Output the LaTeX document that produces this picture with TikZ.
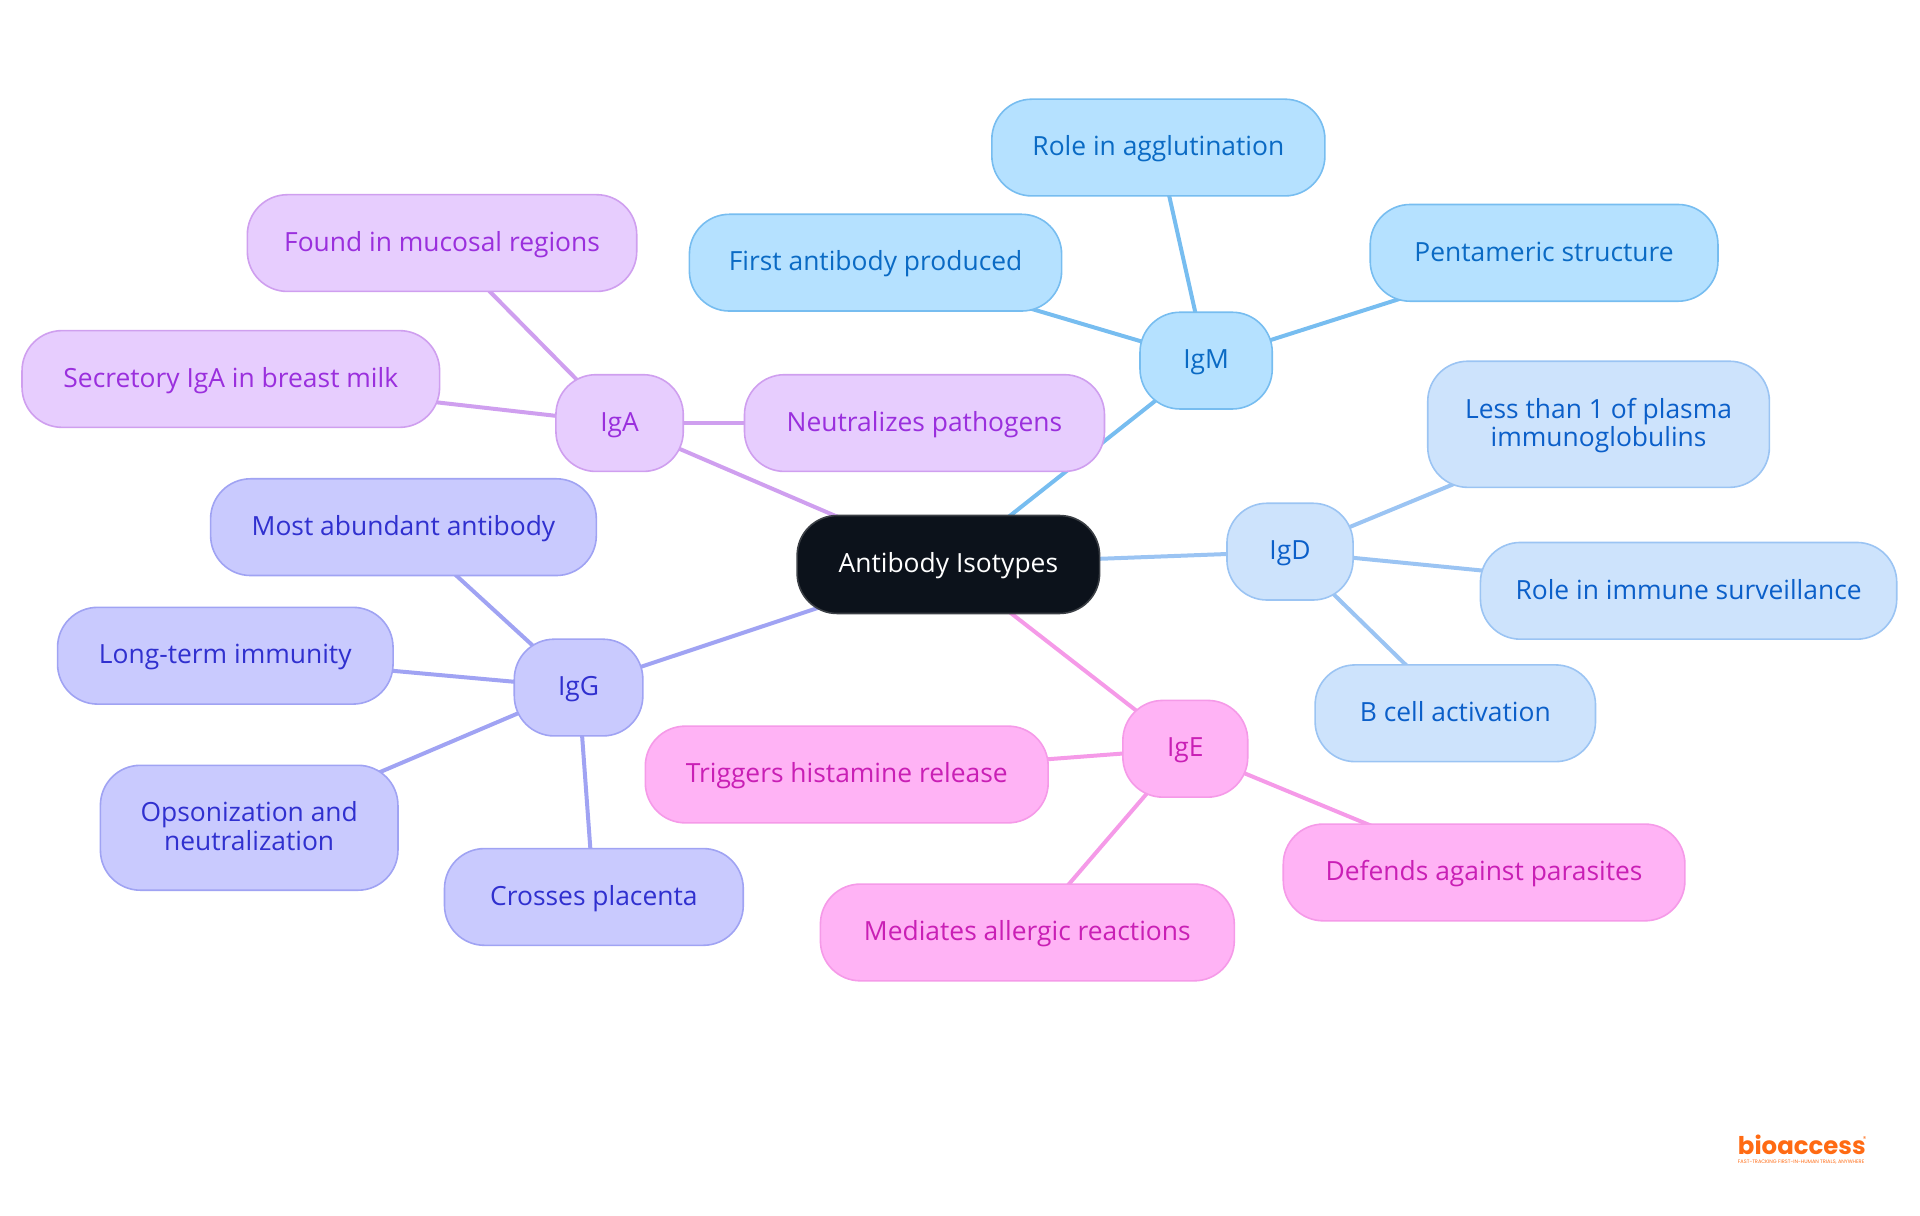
\documentclass[tikz,border=0pt]{standalone}
\usepackage{fontspec}
\setmainfont{Open Sans}
\newfontfamily\logofont{Poppins}
\usetikzlibrary{backgrounds}
\definecolor{mfill}{HTML}{B5E1FF}\definecolor{mline}{HTML}{77BDF0}\definecolor{mtext}{HTML}{0A6AC4}
\definecolor{dfill}{HTML}{CDE3FC}\definecolor{dline}{HTML}{9BC4F3}\definecolor{dtext}{HTML}{0B5FC9}
\definecolor{afill}{HTML}{E7CDFE}\definecolor{aline}{HTML}{CF9FEF}\definecolor{atext}{HTML}{9A2FDD}
\definecolor{gfill}{HTML}{C9CAFE}\definecolor{gline}{HTML}{A0A3F3}\definecolor{gtext}{HTML}{3030CF}
\definecolor{efill}{HTML}{FFB3F5}\definecolor{eline}{HTML}{F59AE8}\definecolor{etext}{HTML}{C91FB5}
\definecolor{rootfill}{HTML}{0C121B}\definecolor{rootline}{HTML}{3B3F45}
\definecolor{logoorange}{HTML}{FF6A13}
\tikzset{
  box/.style={rectangle,rounded corners=20pt,inner sep=0pt,align=center,line width=0.8pt,
    text height=11.2pt,text depth=3pt,
    font=\fontsize{13.2}{14.2}\selectfont},
  twolines/.style={text height=25.6pt},
  mbox/.style={box,fill=mfill,draw=mline,text=mtext},
  dbox/.style={box,fill=dfill,draw=dline,text=dtext},
  abox/.style={box,fill=afill,draw=aline,text=atext},
  gbox/.style={box,fill=gfill,draw=gline,text=gtext},
  ebox/.style={box,fill=efill,draw=eline,text=etext},
  rootbox/.style={box,fill=rootfill,draw=rootline,text=white},
  link/.style={line width=2pt},
  mlink/.style={link,draw=mline},
  dlink/.style={link,draw=dline},
  alink/.style={link,draw=aline},
  glink/.style={link,draw=gline},
  elink/.style={link,draw=eline},
}
\newcommand{\mm}[7]{\node[#6,minimum width={(#3-#2)*0.61224pt},minimum height={(#5-#4)*0.61224pt}] (#1) at ({(#2+#3)/2},{-(#4+#5)/2}) {#7};}
\begin{document}
\begin{tikzpicture}[x=0.61224pt,y=0.61224pt]
\useasboundingbox (0,0) rectangle (1568,-992.25);
\mm{root}{651}{898}{421}{501}{rootbox}{Antibody Isotypes}
\mm{igm}{931}{1039}{255}{334}{mbox}{IgM}
\mm{agg}{810}{1082}{81}{160}{mbox}{Role in agglutination}
\mm{first}{563}{867}{175}{254}{mbox}{First antibody produced}
\mm{penta}{1119}{1403}{167}{246}{mbox}{Pentameric structure}
\mm{iga}{454}{558}{306}{385}{abox}{IgA}
\mm{muc}{202}{520}{159}{238}{abox}{Found in mucosal regions}
\mm{sec}{18}{359}{270}{349}{abox}{Secretory IgA in breast milk}
\mm{neu}{608}{902}{306}{385}{abox}{Neutralizes pathogens}
\mm{igd}{1002}{1105}{411}{490}{dbox}{IgD}
\mm{less}{1166}{1445}{295}{398}{dbox,twolines}{Less than 1 of plasma\\immunoglobulins}
\mm{surv}{1209}{1549}{443}{522}{dbox}{Role in immune surveillance}
\mm{bcell}{1074}{1303}{543}{622}{dbox}{B cell activation}
\mm{igg}{420}{525}{522}{601}{gbox}{IgG}
\mm{most}{172}{487}{391}{470}{gbox}{Most abundant antibody}
\mm{long}{47}{321}{496}{575}{gbox}{Long-term immunity}
\mm{ops}{82}{325}{625}{727}{gbox,twolines}{Opsonization and\\neutralization}
\mm{cross}{363}{607}{693}{772}{gbox}{Crosses placenta}
\mm{ige}{917}{1019}{572}{651}{ebox}{IgE}
\mm{trig}{527}{856}{593}{672}{ebox}{Triggers histamine release}
\mm{def}{1048}{1376}{673}{752}{ebox}{Defends against parasites}
\mm{med}{670}{1008}{722}{801}{ebox}{Mediates allergic reactions}
\begin{scope}[on background layer]
\draw[mlink] (root.center) -- (igm.center);
\draw[mlink] (igm.center) -- (agg.center);
\draw[mlink] (igm.center) -- (first.center);
\draw[mlink] (igm.center) -- (penta.center);
\draw[alink] (root.center) -- (iga.center);
\draw[alink] (iga.center) -- (muc.center);
\draw[alink] (iga.center) -- (sec.center);
\draw[alink] (iga.center) -- (neu.center);
\draw[dlink] (root.center) -- (igd.center);
\draw[dlink] (igd.center) -- (less.center);
\draw[dlink] (igd.center) -- (surv.center);
\draw[dlink] (igd.center) -- (bcell.center);
\draw[glink] (root.center) -- (igg.center);
\draw[glink] (igg.center) -- (most.center);
\draw[glink] (igg.center) -- (long.center);
\draw[glink] (igg.center) -- (ops.center);
\draw[glink] (igg.center) -- (cross.center);
\draw[elink] (root.center) -- (ige.center);
\draw[elink] (ige.center) -- (trig.center);
\draw[elink] (ige.center) -- (def.center);
\draw[elink] (ige.center) -- (med.center);
\end{scope}
\node[anchor=base west,inner sep=0pt,text=logoorange,font=\logofont\bfseries\fontsize{12.2}{12.2}\selectfont] (logo) at (1419,-943) {bioaccess};
\node[anchor=west,inner sep=0pt,text=logoorange,font=\logofont\fontsize{3.5}{3.5}\selectfont] (reg) at (1521,-930) {®};
\node[anchor=base west,inner sep=0pt,text=logoorange,font=\logofont\fontsize{2.5}{2.5}\selectfont] (tag) at (1419,-950) {FAST-TRACKING FIRST-IN-HUMAN TRIALS, ANYWHERE};
\end{tikzpicture}
\end{document}
